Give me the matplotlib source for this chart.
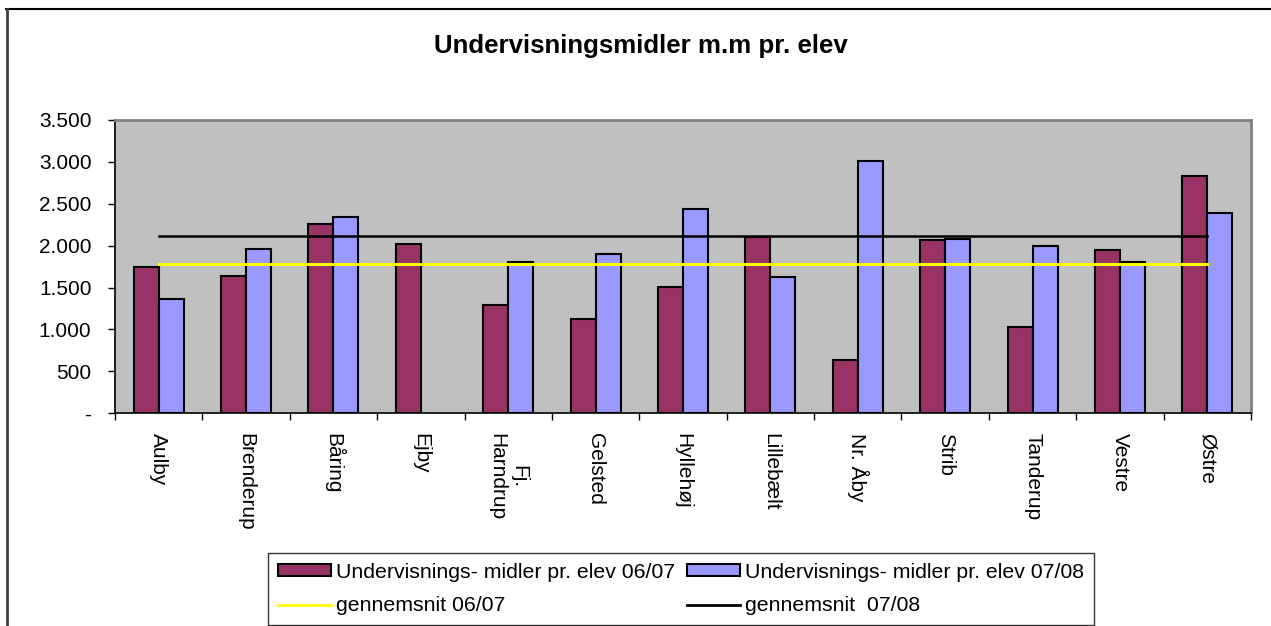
import matplotlib
matplotlib.use("Agg")
import matplotlib.pyplot as plt
from matplotlib.lines import Line2D
from matplotlib.patches import Patch
import numpy as np

plt.rcParams['font.family'] = ['Liberation Sans', 'DejaVu Sans']

categories = ["Aulby", "Brenderup", "Båring", "Ejby", "Fj.\nHarndrup", "Gelsted",
              "Hyllehøj", "Lillebælt", "Nr. Åby", "Strib", "Tanderup", "Vestre", "Østre"]
values_0607 = [1749, 1638, 2259, 2017, 1293, 1122, 1504, 2100, 636, 2068, 1026, 1945, 2828]
values_0708 = [1360, 1965, 2343, 0, 1802, 1897, 2434, 1623, 3015, 2084, 1993, 1810, 2390]
avg_0607 = 1786
avg_0708 = 2112
yticks = [0, 500, 1000, 1500, 2000, 2500, 3000, 3500]
ytick_labels = ["-", "500", "1.000", "1.500", "2.000", "2.500", "3.000", "3.500"]

label_0607 = "Undervisnings- midler pr. elev 06/07"
label_0708 = "Undervisnings- midler pr. elev 07/08"
label_avg0607 = "gennemsnit 06/07"
label_avg0708 = "gennemsnit  07/08"
title = "Undervisningsmidler m.m pr. elev"

W, H = 1271, 626
fig = plt.figure(figsize=(W / 100, H / 100), dpi=100)
ax = fig.add_axes([115 / W, 1 - 413.3 / H, (1251 - 115) / W, (413.3 - 120) / H])
ax.set_facecolor("#C0C0C0")

x = np.arange(len(categories))
w = 1 / 3.5
v1 = np.array(values_0607, dtype=float)
v2 = np.array(values_0708, dtype=float)
v1[v1 == 0] = np.nan   # empty cells draw no bar
v2[v2 == 0] = np.nan
ax.bar(x - w / 2, v1, width=w, color="#993366", edgecolor="black", linewidth=1.5, zorder=2)
ax.bar(x + w / 2, v2, width=w, color="#9999FF", edgecolor="black", linewidth=1.5, zorder=2)
ax.plot(x, [avg_0607] * len(x), color="#FFFF00", linewidth=2.2, zorder=3)
ax.plot(x, [avg_0708] * len(x), color="black", linewidth=1.8, zorder=3)

ax.set_xlim(-0.5, len(categories) - 0.5)
ax.set_ylim(0, 3500)
ax.set_yticks(yticks)
ax.set_yticklabels(ytick_labels, fontsize=15)
ax.tick_params(axis='y', direction='out', length=5, width=1, pad=12)

ax.set_xticks(x)
ax.set_xticklabels(categories, rotation=-90, fontsize=15, ha='center', va='top',
                   multialignment='center')
ax.tick_params(axis='x', which='major', length=0, pad=14)
ax.set_xticks(np.arange(len(categories) + 1) - 0.5, minor=True)
ax.tick_params(axis='x', which='minor', direction='out', length=5, width=1)

for s in ['top', 'right']:
    ax.spines[s].set_color("#808080")
    ax.spines[s].set_linewidth(2)
for s in ['left', 'bottom']:
    ax.spines[s].set_color("black")
    ax.spines[s].set_linewidth(1.2)

fig.text(641 / W, 1 - 46 / H, title, ha='center', va='center', fontsize=18.6, fontweight='bold')

# chart area border (top and left)
fig.add_artist(Line2D([6 / W, 1], [1 - 9 / H, 1 - 9 / H], color="black", linewidth=1.5,
                      transform=fig.transFigure))
fig.add_artist(Line2D([7 / W, 7 / W], [0, 1 - 9 / H], color="#404040", linewidth=2,
                      transform=fig.transFigure))

handles = [Patch(facecolor="#993366", edgecolor="black", linewidth=1.5),
           Line2D([], [], color="#FFFF00", linewidth=2),
           Patch(facecolor="#9999FF", edgecolor="black", linewidth=1.5),
           Line2D([], [], color="black", linewidth=2)]
labels = [label_0607, label_avg0607, label_0708, label_avg0708]
leg = fig.legend(handles, labels, ncol=2, loc='upper left',
                 bbox_to_anchor=(268 / W, 1 - 553 / H), borderaxespad=0,
                 fontsize=15.3, frameon=True, fancybox=False, handlelength=2.5,
                 handletextpad=0.25, columnspacing=0.55, labelspacing=0.7,
                 borderpad=0.45, handleheight=0.45)
leg.get_frame().set_edgecolor("black")
leg.get_frame().set_linewidth(1)

fig.savefig("out.png", dpi=100)
